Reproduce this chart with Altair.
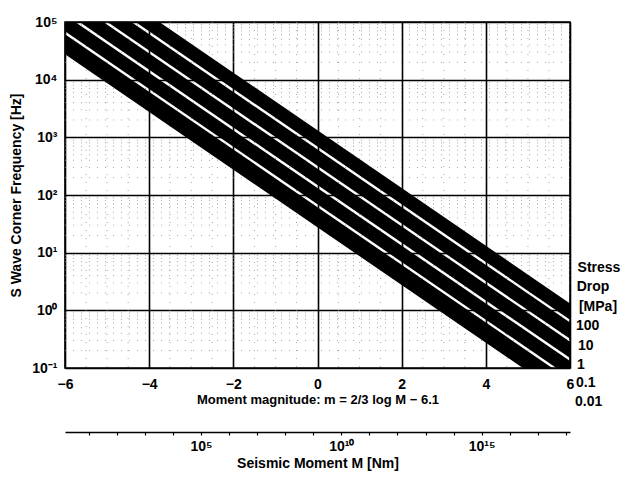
import altair as alt
import pandas as pd

# Moment magnitude at both ends of the plotted range
magnitude_ends = [-6.0, 6.0]

# Stress-drop classes (MPa) and the band of S-wave corner frequencies (Hz)
# at m = -6 (start) and m = +6 (end)
stress_drops = ["100", "10", "1", "0.1", "0.01"]
band_low_start = [6.9e5, 3.2e5, 1.49e5, 6.9e4, 2.75e4]
band_high_start = [1.32e6, 6.13e5, 2.85e5, 1.32e5, 6.14e4]
band_low_end = [0.69, 0.32, 0.149, 0.069, 0.0275]
band_high_end = [1.32, 0.613, 0.285, 0.132, 0.0614]

# Axis ticks and labels
x_ticks = [-6, -4, -2, 0, 2, 4, 6]
y_decades = [0.1, 1, 10, 100, 1000, 10000, 100000]
y_decade_labels = ["10⁻¹", "10⁰", "10¹", "10²", "10³", "10⁴", "10⁵"]
moment_log_range = [0.15, 18.15]          # log10 M at m = -6 and m = +6
moment_ticks = list(range(1, 19))
moment_label_ticks = [5, 10, 15]
moment_labels = ["10⁵", "10¹⁰", "10¹⁵"]

# Right-hand legend text
legend_header = ["Stress", "Drop", "[MPa]"]

FONT = "Liberation Sans"
W, H = 505, 346

# ---- tables -------------------------------------------------------------
rows = []
for i, sd in enumerate(stress_drops):
    rows.append({"band": sd, "m": magnitude_ends[0], "f": band_low_start[i], "f2": band_high_start[i]})
    rows.append({"band": sd, "m": magnitude_ends[1], "f": band_low_end[i], "f2": band_high_end[i]})
bands_df = pd.DataFrame(rows)

minor_y = [k * d for d in y_decades[:-1] for k in range(2, 10)]
minor_x = [v / 2 for v in range(-11, 12) if v % 4 != 0]
minor_y_df = pd.DataFrame({"f": minor_y})
minor_x_df = pd.DataFrame({"m": minor_x})


def label_expr(values, labels):
    parts = [f"datum.value == {v} ? '{t}'" for v, t in zip(values, labels)]
    return " : ".join(parts) + " : ''"


x_scale = alt.Scale(domain=[-6, 6], nice=False, zero=False)
y_scale = alt.Scale(type="log", domain=[0.1, 1e5], nice=False)

x_axis = alt.Axis(
    values=x_ticks, format="d", grid=True, gridColor="black", gridWidth=1.6,
    ticks=False, domain=False, labelPadding=9, labelFlush=False,
    title="Moment magnitude: m = 2/3 log M − 6.1", titlePadding=2,
)
y_axis = alt.Axis(
    values=y_decades, labelExpr=label_expr(y_decades, y_decade_labels),
    grid=True, gridColor="black", gridWidth=1.6, ticks=False, domain=False,
    labelPadding=8, labelFlush=False,
    title="S Wave Corner Frequency [Hz]", titlePadding=8, titleFontSize=14,
)

X = alt.X("m:Q", scale=x_scale, axis=x_axis)
Y = alt.Y("f:Q", scale=y_scale, axis=y_axis)

# sparse dotted minor grid
grid_y = alt.Chart(minor_y_df).mark_rule(
    color="#8a8a8a", strokeWidth=1, strokeDash=[1, 7], opacity=0.75
).encode(y=Y)
grid_x = alt.Chart(minor_x_df).mark_rule(
    color="#8a8a8a", strokeWidth=1, strokeDash=[1, 7], opacity=0.75
).encode(x=X)

# corner-frequency bands
bands = alt.Chart(bands_df).mark_area(
    color="black", clip=True, orient="vertical", interpolate="linear"
).encode(x=X, y=Y, y2="f2:Q", detail="band:N")

# legend text to the right of the plot
text_style = dict(font=FONT, fontWeight="bold", fontSize=14, color="black", baseline="middle")
header_pos = [(534, 246), (528, 265), (533, 285)]
value_pos = [(511, 304), (513, 324), (512, 343), (511, 361), (510, 380)]

legend_layers = []
for t, (px, py) in zip(legend_header, header_pos):
    legend_layers.append(
        alt.Chart(alt.Data(values=[{}])).mark_text(align="center", **text_style)
        .encode(x=alt.value(px), y=alt.value(py), text=alt.value(t))
    )
for t, (px, py) in zip(stress_drops, value_pos):
    legend_layers.append(
        alt.Chart(alt.Data(values=[{}])).mark_text(align="left", **text_style)
        .encode(x=alt.value(px), y=alt.value(py), text=alt.value(t))
    )

main = alt.layer(grid_y, grid_x, bands, *legend_layers)

# secondary axis: seismic moment in N m
moment_df = pd.DataFrame({"logM": moment_log_range})
moment_axis = alt.Axis(
    orient="bottom", offset=64, values=moment_ticks,
    labelExpr=label_expr(moment_label_ticks, moment_labels),
    grid=False, ticks=True, tickSize=3, tickColor="black", tickWidth=1.2,
    domain=True, domainColor="black", domainWidth=1.6,
    labelPadding=4, labelFlush=False,
    title="Seismic Moment M [Nm]", titlePadding=3, titleFontSize=14,
)
moment = alt.Chart(moment_df).mark_point(opacity=0).encode(
    x=alt.X("logM:Q", scale=alt.Scale(domain=moment_log_range, nice=False, zero=False), axis=moment_axis)
)

chart = (
    alt.layer(main, moment)
    .resolve_scale(x="independent")
    .properties(
        width=W, height=H,
        autosize=alt.AutoSizeParams(type="none"),
        padding={"left": 65, "top": 22, "right": 58, "bottom": 111},
        background="white",
    )
    .configure_view(stroke="black", strokeWidth=1.6)
    .configure_axis(
        labelFont=FONT, labelFontWeight="bold", labelFontSize=14, labelColor="black",
        titleFont=FONT, titleFontWeight="bold", titleFontSize=13, titleColor="black",
    )
)

chart.save("out.html", embed_options={"renderer": "svg", "actions": False})
